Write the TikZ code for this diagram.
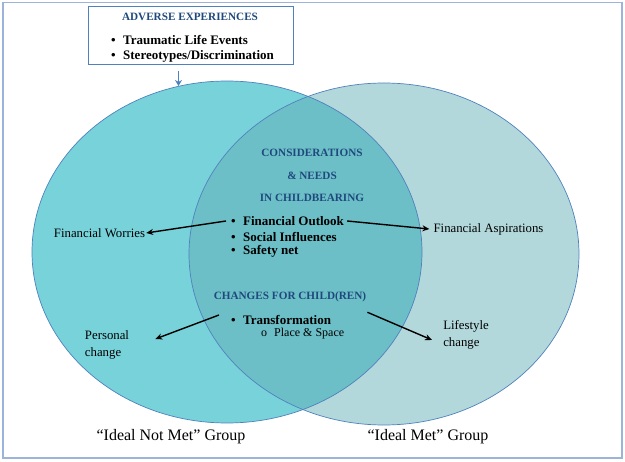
\documentclass[tikz,border=0pt]{standalone}
\usepackage{fontspec}
\setmainfont{Liberation Serif}
\usetikzlibrary{arrows.meta}
\definecolor{notmet}{HTML}{78D2DA}
\definecolor{met}{HTML}{B2D8DB}
\definecolor{both}{HTML}{6CBFC7}
\definecolor{rim}{HTML}{4F81BD}
\definecolor{head}{HTML}{1F497D}
\definecolor{outer}{HTML}{9CB3DA}
\newcommand{\bul}{\makebox[12pt][l]{\textbullet}}

\begin{document}
\begin{tikzpicture}[x=1pt,y=-1pt,
    every node/.style={inner sep=1pt},
    heading/.style={text=head,font=\fontsize{11.2}{13}\selectfont\bfseries},
    item/.style={anchor=west,font=\fontsize{13}{15}\selectfont\bfseries},
    side/.style={font=\fontsize{12.8}{17}\selectfont,align=left},
    group/.style={font=\fontsize{16}{19}\selectfont},
    arr/.style={-{Stealth[length=7pt,width=6pt]},line width=1.4pt}]
      \useasboundingbox (0,0) rectangle (625,462);
      \draw[outer,line width=1.6pt] (3,2.5) rectangle (622,458);

      % the two groups and their overlap
      \fill[notmet] (227,252) ellipse [x radius=195,y radius=171];
      \fill[met] (384,254) ellipse [x radius=195,y radius=171];
      \begin{scope}
        \clip (227,252) ellipse [x radius=195,y radius=171];
        \fill[both] (384,254) ellipse [x radius=195,y radius=171];
      \end{scope}
      \draw[rim,line width=0.7pt] (227,252) ellipse [x radius=195,y radius=171];
      \draw[rim,line width=0.7pt] (384,254) ellipse [x radius=195,y radius=171];

      \path
      (190.5,36) node[draw=rim,line width=1pt,fill=white,minimum width=205pt,minimum height=58pt] (advbox) {}
      (190,17) node[heading] (adv) {ADVERSE EXPERIENCES}
      (110,40) node[item] (trauma) {\bul Traumatic Life Events}
      (110,56) node[item] (stereo) {\bul Stereotypes/Discrimination}
      (312,153) node[heading] (consid) {CONSIDERATIONS}
      (312,176) node[heading] (needs) {\& NEEDS}
      (312,198) node[heading] (inchild) {IN CHILDBEARING}
      (230,221) node[item] (outlook) {\bul Financial Outlook}
      (230,237) node[item] (social) {\bul Social Influences}
      (230,251) node[item] (safety) {\bul Safety net}
      (290,297) node[heading] (changes) {CHANGES FOR CHILD(REN)}
      (230,320) node[item] (transf) {\bul Transformation}
      (260,334) node[item,font=\fontsize{12}{14}\selectfont] (place) {\makebox[13pt][l]{o}Place \& Space}
      (99.5,233) node[side] (worries) {Financial Worries}
      (488.5,229) node[side] (aspire) {Financial Aspirations}
      (107,345) node[side] (personal) {Personal\\change}
      (466,335) node[side] (lifestyle) {Lifestyle\\change}
      (171,437) node[group] (notmetlbl) {“Ideal Not Met” Group}
      (428,437) node[group] (metlbl) {“Ideal Met” Group}
      ;
      \coordinate (advtip) at (178.5,86);

      \draw[rim,line width=1.5pt,-{Stealth[length=6pt,width=7pt]}] ([shift={(-12,6)}]advbox.south) -- (advtip);
      \draw[arr] ([xshift=-4pt]outlook.west) -- (worries.east);
      \draw[arr] ([xshift=2pt]outlook.east) -- ([xshift=-3pt]aspire.west);
      \draw[arr] ([shift={(-11,-5)}]transf.west) -- ([shift={(25,-6)}]personal.east);
      \draw[arr] ([shift={(0,9)}]changes.south east) -- ([shift={(-10,5)}]lifestyle.west);
\end{tikzpicture}
\end{document}
